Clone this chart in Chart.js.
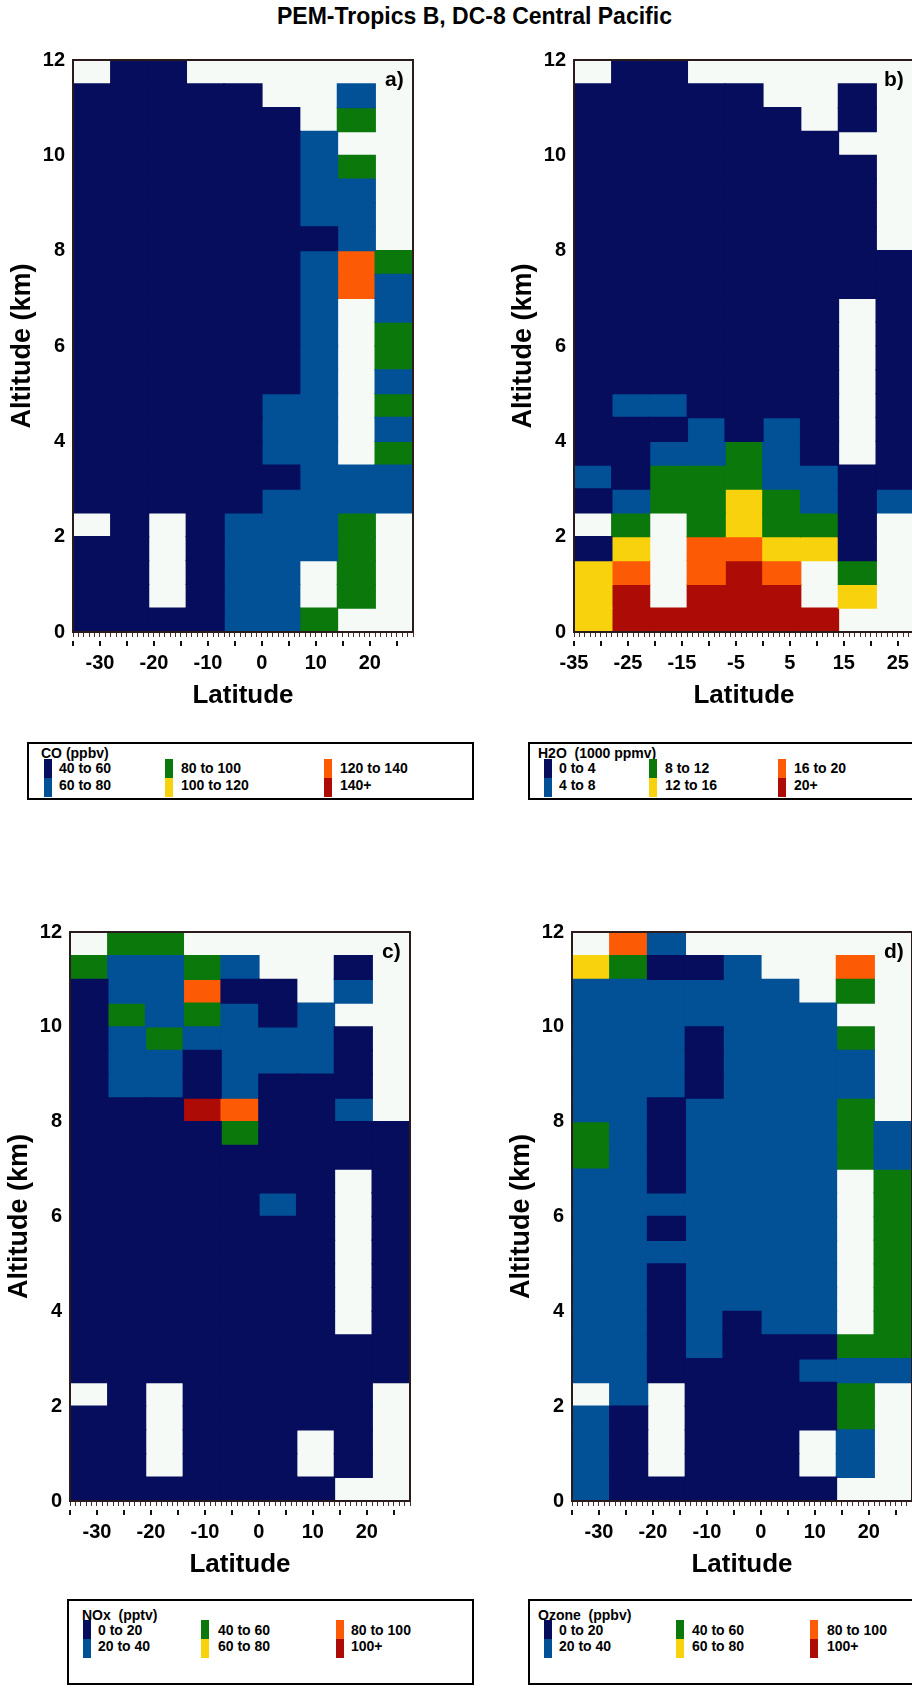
<!DOCTYPE html>
<html><head><meta charset="utf-8">
<script src="https://cdn.jsdelivr.net/npm/chart.js@4.4.1/dist/chart.umd.min.js"></script>
<style>
html,body{margin:0;padding:0;width:912px;height:1691px;overflow:hidden;background:#fff;}
canvas{position:absolute;}
.title{position:absolute;left:277px;top:5px;font:bold 23px/23px 'Liberation Sans',Arial,sans-serif;white-space:nowrap;color:#000;}
.plabel{position:absolute;font:bold 21px/21px 'Liberation Sans',Arial,sans-serif;color:#000;}
.legend{position:absolute;border:2px solid #000;box-sizing:border-box;background:#fff;}
.legend span{position:absolute;white-space:pre;font:bold 14px/14px 'Liberation Sans',Arial,sans-serif;color:#000;}
.sw{position:absolute;width:8px;height:19px;}
</style></head><body>
<div class="title">PEM-Tropics B, DC-8 Central Pacific</div>
<script>
// ---------- data ----------
// colour classes (lowest to highest)
const CLASS_CODES = ['N','B','G','Y','O','R'];
// latitude bin edges (deg) and altitude bins (km)
const LAT_EDGES = [-35,-28,-21,-14,-7,0,7,14,21,28];
const ALT_TOP = 12;
const ALT_STEP = 0.5;
// tick values / labels
const ALT_TICKS = [0,2,4,6,8,10,12];
const MAJOR_LAT_TICKS = [-35,-30,-25,-20,-15,-10,-5,0,5,10,15,20,25];
const LAT_LABELS_A = [-30,-20,-10,0,10,20];
const LAT_LABELS_B = [-35,-25,-15,-5,5,15,25];

// grids: rows from 11.5-12 km (top) down to 0-0.5 km, columns from -35 to 28 deg; '.' = no data
const coGrid = [
 '.NN......','NNNNN..B.','NNNNNN.G.','NNNNNNB..','NNNNNNBG.','NNNNNNBB.',
 'NNNNNNBB.','NNNNNNNB.','NNNNNNBOG','NNNNNNBOB','NNNNNNB.B','NNNNNNB.G',
 'NNNNNNB.G','NNNNNNB.B','NNNNNBB.G','NNNNNBB.B','NNNNNBB.G','NNNNNNBBB',
 'NNNNNBBBB','.N.NBBBG.','NN.NBBBG.','NN.NBB.G.','NN.NBB.G.','NNNNBBG..'
];
const h2oGrid = [
 '.NN......','NNNNN..N.','NNNNNN.N.','NNNNNNN..','NNNNNNNN.','NNNNNNNN.',
 'NNNNNNNN.','NNNNNNNN.','NNNNNNNNN','NNNNNNNNN','NNNNNNN.N','NNNNNNN.N',
 'NNNNNNN.N','NNNNNNN.N','NBBNNNN.N','NNNBNBN.N','NNBBGBN.N','BNGGGBBNN',
 'NBGGYGBNB','.G.GYGGN.','NY.OOYYN.','YO.ORO.G.','YR.RRR.Y.','YRRRRRR..'
];
const noxGrid = [
 '.GG......','GBBGB..N.','NBBONN.B.','NGBGBNB..','NBGBBBBN.','NBBNBBBN.',
 'NBBNBNNN.','NNNRONNB.','NNNNGNNNN','NNNNNNNNN','NNNNNNN.N','NNNNNBN.N',
 'NNNNNNN.N','NNNNNNN.N','NNNNNNN.N','NNNNNNN.N','NNNNNNN.N','NNNNNNNNN',
 'NNNNNNNNN','.N.NNNNN.','NN.NNNNN.','NN.NNN.N.','NN.NNN.N.','NNNNNNN..'
];
const o3Grid = [
 '.OB......','YGNNB..O.','BBBBBB.G.','BBBBBBB..','BBBNBBBG.','BBBNBBBB.',
 'BBBNBBBB.','BBNBBBBG.','GBNBBBBGB','GBNBBBBGB','BBNBBBB.G','BBBBBBB.G',
 'BBNBBBB.G','BBBBBBB.G','BBNBBBB.G','BBNBBBB.G','BBNBNBB.G','BBNBNNNGG',
 'BBNNNNBBB','.B.NNNNG.','BN.NNNNG.','BN.NNN.B.','BN.NNN.B.','BNNNNNN..'
];

// legend texts
const coLabels = ['40 to 60','60 to 80','80 to 100','100 to 120','120 to 140','140+'];
const h2oLabels = ['0 to 4','4 to 8','8 to 12','12 to 16','16 to 20','20+'];
const noxLabels = ['0 to 20','20 to 40','40 to 60','60 to 80','80 to 100','100+'];
const o3Labels = ['0 to 20','20 to 40','40 to 60','60 to 80','80 to 100','100+'];

// ---------- styles ----------
const CLASS_COLORS = ['#060d5c','#025096','#0b780b','#f8d20c','#fd5a06','#ad0c06'];
const EMPTY_COLOR = '#f6faf6';
const FONT = "'Liberation Sans', Arial, sans-serif";

const MINOR_LAT_TICKS = [];
for (let v = LAT_EDGES[0]; v <= LAT_EDGES[LAT_EDGES.length-1]; v++) MINOR_LAT_TICKS.push(v);

function cellDatasets(grid){
  return CLASS_CODES.map((code,k)=>{
    const data = [];
    grid.forEach((row,r)=>{
      const hi = ALT_TOP - r*ALT_STEP, lo = hi - ALT_STEP;
      [...row].forEach((ch,c)=>{
        if (ch === code) data.push({x:(LAT_EDGES[c]+LAT_EDGES[c+1])/2, y:[lo,hi]});
      });
    });
    return {data, backgroundColor:CLASS_COLORS[k], borderWidth:0, grouped:false, inflateAmount:0.7,
            barPercentage:1, categoryPercentage:1, xAxisID:'xc', yAxisID:'y'};
  });
}

const framePlugin = {
  id:'frame',
  beforeDatasetsDraw(chart){
    const {ctx, chartArea:a} = chart;
    ctx.save(); ctx.fillStyle = EMPTY_COLOR; ctx.fillRect(a.left,a.top,a.width,a.height); ctx.restore();
  },
  afterDatasetsDraw(chart){
    const {ctx, chartArea:a} = chart;
    ctx.save(); ctx.strokeStyle = '#2a1c1c'; ctx.lineWidth = 2;
    ctx.strokeRect(a.left, a.top, a.width, a.height); ctx.restore();
  }
};

const panels = [
  {grid:coGrid, left:0, top:40, plotH:580, labels:LAT_LABELS_A, tag:'a)', tagX:385},
  {grid:h2oGrid, left:501, top:40, plotH:580, labels:LAT_LABELS_B, tag:'b)', tagX:884},
  {grid:noxGrid, left:-3, top:912, plotH:577, labels:LAT_LABELS_A, tag:'c)', tagX:382},
  {grid:o3Grid, left:499, top:912, plotH:577, labels:LAT_LABELS_A, tag:'d)', tagX:884}
];

const latMin = LAT_EDGES[0], latMax = LAT_EDGES[LAT_EDGES.length-1];

panels.forEach(p=>{
  const cv = document.createElement('canvas');
  const W = 430, H = 12 + p.plotH + 9 + 70 + 5;
  cv.width = W; cv.height = H;
  cv.style.left = p.left+'px'; cv.style.top = p.top+'px';
  cv.style.width = W+'px'; cv.style.height = H+'px';
  document.body.appendChild(cv);
  new Chart(cv, {
    type:'bar',
    data:{datasets: cellDatasets(p.grid)},
    options:{
      responsive:false, animation:false, devicePixelRatio:1,
      layout:{padding:{left:0, right:17, top:0, bottom:5}},
      plugins:{legend:{display:false}, tooltip:{enabled:false}},
      scales:{
        xc:{type:'linear', position:'bottom', weight:-1, min:latMin, max:latMax, offset:false,
            afterBuildTicks:s=>{ s.ticks = LAT_EDGES.map(v=>({value:v})); },
            ticks:{display:false}, grid:{display:false, drawTicks:false, offset:false}, border:{display:false},
            afterFit:s=>{ s.height = 0; }},
        x:{type:'linear', position:'bottom', weight:0, min:latMin, max:latMax, offset:false,
           afterBuildTicks:s=>{ s.ticks = MINOR_LAT_TICKS.map(v=>({value:v})); },
           ticks:{display:false},
           grid:{drawOnChartArea:false, offset:false, tickLength:5, color:'#4a3028', lineWidth:1},
           border:{display:false},
           afterFit:s=>{ s.height = 9; }},
        x2:{type:'linear', position:'bottom', weight:1, min:latMin, max:latMax, offset:false,
           afterBuildTicks:s=>{ s.ticks = MAJOR_LAT_TICKS.map(v=>({value:v})); },
           ticks:{autoSkip:false, maxRotation:0, padding:5, color:'#000',
                  font:{family:FONT, weight:'bold', size:20},
                  callback:(v)=> p.labels.includes(v) ? String(v) : ''},
           grid:{drawOnChartArea:false, offset:false, tickLength:5, color:'#111', lineWidth:2},
           border:{display:false},
           title:{display:true, text:'Latitude', color:'#000', padding:0,
                  font:{family:FONT, weight:'bold', size:26}},
           afterFit:s=>{ s.height = 70; }},
        y:{type:'linear', position:'left', min:0, max:ALT_TOP,
           afterBuildTicks:s=>{ s.ticks = ALT_TICKS.map(v=>({value:v})); },
           ticks:{padding:8, color:'#000', font:{family:FONT, weight:'bold', size:20}},
           grid:{display:false, drawTicks:false},
           border:{display:false},
           title:{display:true, text:'Altitude (km)', color:'#000', padding:{top:6, bottom:0},
                  font:{family:FONT, weight:'bold', size:27}},
           afterFit:s=>{ s.width = 73; }}
      }
    },
    plugins:[framePlugin]
  });
  const t = document.createElement('div');
  t.className = 'plabel'; t.textContent = p.tag;
  t.style.left = p.tagX+'px'; t.style.top = (p.top + 12 + 16)+'px';
  document.body.appendChild(t);
});

// ---------- legends ----------
const legends = [
  {title:'CO (ppbv)', labels:coLabels, left:27, top:742, width:447, height:58, titleX:12, rowY:[18,35], swY:15, cols:[[15,30],[136,152],[295,311]]},
  {title:'H2O  (1000 ppmv)', labels:h2oLabels, left:528, top:742, width:420, height:58, titleX:8, rowY:[18,35], swY:15, cols:[[14,29],[119,135],[248,264]]},
  {title:'NOx  (pptv)', labels:noxLabels, left:67, top:1599, width:407, height:86, titleX:13, rowY:[23,39], swY:19, cols:[[14,29],[132,149],[267,282]]},
  {title:'Ozone  (ppbv)', labels:o3Labels, left:528, top:1599, width:420, height:86, titleX:8, rowY:[23,39], swY:19, cols:[[14,29],[146,162],[280,297]]}
];
legends.forEach(L=>{
  const box = document.createElement('div');
  box.className = 'legend';
  Object.assign(box.style, {left:L.left+'px', top:L.top+'px', width:L.width+'px', height:L.height+'px'});
  const tt = document.createElement('span');
  tt.textContent = L.title; tt.style.left = L.titleX+'px'; tt.style.top = (L.rowY[0]-16)+'px';
  box.appendChild(tt);
  L.cols.forEach((c,ci)=>{
    for (let j=0;j<2;j++){
      const k = ci*2 + j;
      const sw = document.createElement('div');
      sw.className = 'sw';
      Object.assign(sw.style, {left:c[0]+'px', top:(L.swY + j*19)+'px', background:CLASS_COLORS[k]});
      box.appendChild(sw);
      const s = document.createElement('span');
      s.textContent = L.labels[k];
      s.style.left = c[1]+'px'; s.style.top = (L.rowY[j]-1)+'px';
      box.appendChild(s);
    }
  });
  document.body.appendChild(box);
});
</script>
</body></html>
